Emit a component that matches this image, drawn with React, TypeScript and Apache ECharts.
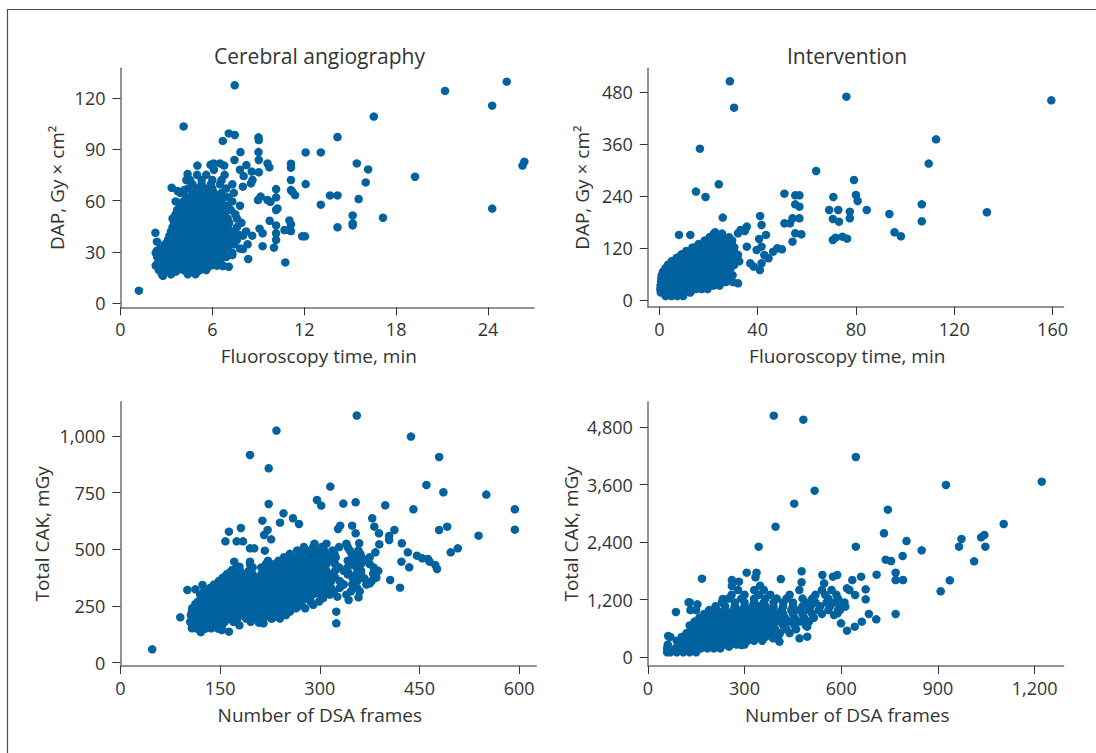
import React, { useEffect, useRef } from 'react';
import * as echarts from 'echarts';

// ---------- Panel titles & axis texts ----------
const panelTitles = ['Cerebral angiography', 'Intervention'];
const xNames = ['Fluoroscopy time, min', 'Fluoroscopy time, min', 'Number of DSA frames', 'Number of DSA frames'];
const yNames = ['DAP, Gy × cm²', 'DAP, Gy × cm²', 'Total CAK, mGy', 'Total CAK, mGy'];

// ---------- Tick values ----------
const p1XTicks = [0, 6, 12, 18, 24];
const p1YTicks = [0, 30, 60, 90, 120];
const p2XTicks = [0, 40, 80, 120, 160];
const p2YTicks = [0, 120, 240, 360, 480];
const p3XTicks = [0, 150, 300, 450, 600];
const p3YTicks = [0, 250, 500, 750, 1000];
const p4XTicks = [0, 300, 600, 900, 1200];
const p4YTicks = [0, 1200, 2400, 3600, 4800];

// ---------- Panel 1: Cerebral angiography, fluoroscopy time vs DAP ----------
const p1Scattered: [number, number][] = [
  [1.2, 7.4], [7.46, 127.3], [4.12, 103.3], [21.19, 124.0], [25.22, 129.4], [24.27, 115.4], [24.27, 55.3],
  [26.25, 80.4], [26.37, 82.7], [19.23, 73.9], [16.54, 109.0], [14.17, 97.1], [13.08, 88.1], [12.09, 88.1],
  [15.43, 81.7], [16.17, 78.2], [16.01, 70.6], [15.55, 60.9], [17.14, 50.0], [15.16, 51.3], [15.16, 46.7],
  [15.16, 45.5], [14.17, 44.4], [14.17, 63.0], [13.68, 63.0], [13.08, 57.6], [12.09, 69.6], [11.86, 39.1],
  [12.05, 39.1], [11.13, 81.5], [11.13, 79.2], [11.13, 72.0], [11.13, 66.1], [11.22, 65.2], [11.4, 63.2],
  [11.03, 48.4], [11.13, 46.1], [11.03, 42.8], [11.13, 42.2], [10.76, 23.9], [10.71, 42.8], [10.16, 66.7],
  [10.16, 61.9], [10.25, 55.4], [10.16, 54.5], [10.16, 45.5], [10.16, 40.9], [10.16, 37.0], [10.02, 32.5],
  [9.74, 48.2], [9.6, 60.3], [9.79, 59.3], [9.6, 81.7], [9.72, 79.4], [9.01, 96.9], [9.03, 95.3], [9.01, 88.3],
  [9.03, 83.7], [9.03, 76.5], [9.15, 62.3], [8.98, 60.3], [9.28, 40.9], [9.28, 33.4], [9.08, 43.6], [8.52, 70.0],
  [8.62, 72.0], [8.57, 76.9], [8.22, 80.7], [8.04, 74.3], [7.99, 68.1], [7.83, 88.3], [7.44, 83.7], [7.46, 98.3],
  [7.07, 99.2], [6.68, 94.8], [5.02, 80.4], [5.88, 80.9], [6.08, 81.7], [6.5, 81.7], [6.77, 80.4], [4.38, 75.5],
  [4.54, 72.0], [3.34, 67.5], [3.73, 65.6], [4.15, 66.1], [8.34, 25.9], [2.77, 16.1], [2.28, 41.2], [2.38, 36.0],
  [2.38, 30.7], [2.38, 22.7], [3.16, 19.4], [3.62, 18.5], [4.38, 17.5], [5.0, 18.5], [6.08, 22.7], [6.68, 21.8],
  [7.07, 21.4], [7.3, 28.2], [7.99, 31.7], [7.46, 37.0], [7.76, 39.9],
];
// dense core, read row by row: [DAP, fluoroscopy times]
const p1Core: [number, number[]][] = [
  [17, [2.7, 3.3, 4.4, 4.9]],
  [19.5, [2.5, 2.9, 3.3, 3.7, 4.1, 4.6, 5.2, 5.6]],
  [22, [2.3, 2.7, 3.1, 3.5, 3.9, 4.3, 4.7, 5.1, 5.5, 5.9, 6.3, 6.7]],
  [24.5, [2.5, 2.9, 3.3, 3.7, 4.1, 4.5, 4.9, 5.3, 5.7, 6.1, 6.5]],
  [27, [2.4, 2.8, 3.2, 3.6, 4.0, 4.4, 4.8, 5.2, 5.6, 6.0, 6.4, 6.9]],
  [29.5, [2.3, 2.7, 3.1, 3.5, 3.9, 4.3, 4.7, 5.1, 5.5, 5.9, 6.3, 6.7, 7.3]],
  [32, [2.6, 3.0, 3.4, 3.8, 4.2, 4.6, 5.0, 5.4, 5.8, 6.2, 6.6, 7.0, 7.8]],
  [34.5, [2.9, 3.3, 3.7, 4.1, 4.5, 4.9, 5.3, 5.7, 6.1, 6.5, 6.9, 7.4, 8.3]],
  [37, [3.1, 3.5, 3.9, 4.3, 4.7, 5.1, 5.5, 5.9, 6.3, 6.7, 7.1, 7.6]],
  [39.5, [3.2, 3.6, 4.0, 4.4, 4.8, 5.2, 5.6, 6.0, 6.4, 6.8, 7.2, 8.0, 8.6]],
  [42, [3.3, 3.7, 4.1, 4.5, 4.9, 5.3, 5.7, 6.1, 6.5, 6.9, 7.4, 8.2]],
  [44.5, [3.4, 3.8, 4.2, 4.6, 5.0, 5.4, 5.8, 6.2, 6.6, 7.0, 7.6]],
  [47, [3.5, 3.9, 4.3, 4.7, 5.1, 5.5, 5.9, 6.3, 6.7, 7.1, 7.9]],
  [49.5, [3.4, 3.8, 4.2, 4.6, 5.0, 5.4, 5.8, 6.2, 6.6, 7.0, 7.6]],
  [52, [3.6, 4.0, 4.4, 4.8, 5.2, 5.6, 6.0, 6.4, 6.8, 7.5]],
  [54.5, [3.7, 4.1, 4.5, 4.9, 5.3, 5.7, 6.1, 6.5, 6.9, 7.2]],
  [57, [3.9, 4.3, 4.7, 5.1, 5.5, 5.9, 6.3, 6.7, 7.0, 7.8]],
  [59.5, [3.6, 4.1, 4.6, 5.0, 5.4, 5.8, 6.2, 6.6, 7.3]],
  [62, [4.3, 4.8, 5.2, 5.6, 6.0, 6.5, 7.0]],
  [64.5, [3.9, 4.7, 5.2, 5.7, 6.1, 6.6, 7.4]],
  [67, [4.4, 5.0, 5.5, 6.0, 6.9]],
  [69.5, [4.7, 5.3, 5.9, 6.5, 7.3]],
  [72, [4.3, 5.3, 6.0, 6.6]],
  [75, [5.0, 5.6, 6.8]],
  [78, [6.1, 7.8]],
];

// ---------- Panel 2: Intervention, fluoroscopy time vs DAP ----------
const p2Scattered: [number, number][] = [
  [28.7, 505.4], [30.4, 444.6], [76.1, 470], [159.5, 461.5], [112.6, 371.5], [109.6, 315.4], [16.5, 350],
  [63.8, 298.4], [24.2, 267.7], [14.9, 250.8], [18.8, 238.4], [79.2, 277.7], [80, 243.1], [80.7, 229.2],
  [70.8, 238.4], [69.1, 208.4], [72.8, 208.4], [77.5, 204.6], [77.5, 189.2], [70.6, 187.7], [73.1, 181.5],
  [70.6, 139.2], [71.7, 144.6], [74.5, 146.9], [76.4, 142.3], [84.4, 208.4], [93.6, 199.2], [95.7, 156.9],
  [98.3, 147.7], [106.8, 221.5], [106.8, 182.3], [133.3, 203.1], [50.9, 246.1], [55.3, 242.3], [57.0, 242.3],
  [55.3, 221.5], [57.0, 216.1], [54.2, 189.2], [57.0, 189.2], [50.9, 177.7], [53.2, 177.7], [55.3, 154.6],
  [57.8, 152.3], [54.2, 135.3], [48.0, 120], [49.9, 117.7], [46.3, 112.3], [41.0, 194.6], [41.6, 173.8],
  [43.4, 150.8], [40.6, 141.5], [41.6, 123.8], [39.6, 116.1], [42.7, 104.6], [44.4, 96.9], [41.6, 85.4],
  [40.9, 70], [8.0, 150.8], [12.6, 150.8], [25.8, 190.8], [22.7, 156.9], [24.1, 146.9], [28.4, 145.4],
  [32.0, 154.6], [35.6, 170], [34.8, 160], [33.1, 162.3], [35.6, 123.8], [32.0, 104.6], [32.0, 39.2],
  [25.5, 46.9], [28.4, 54.6], [37.0, 85.4], [38.4, 77.7], [15.5, 123.8], [25.5, 139.2],
];
const p2Core: [number, number[]][] = [
  [10, [2.5, 4.9, 7.3, 9.7]],
  [18, [0.6, 3, 5.4, 7.8, 10.2, 12.6]],
  [26, [0.4, 2.8, 5.2, 7.6, 10, 12.4, 14.8, 17.2, 19.6]],
  [34, [0.5, 2.9, 5.3, 7.7, 10.1, 12.5, 14.9, 17.3, 19.7, 22.1, 24.5]],
  [42, [0.7, 3.1, 5.5, 7.9, 10.3, 12.7, 15.1, 17.5, 19.9, 22.3, 24.7, 27.1, 30]],
  [50, [0.8, 3.2, 5.6, 8, 10.4, 12.8, 15.2, 17.6, 20, 22.4, 24.8, 27.2]],
  [58, [1, 3.4, 5.8, 8.2, 10.6, 13, 15.4, 17.8, 20.2, 22.6, 25, 27.4, 29.8]],
  [66, [1.5, 3.9, 6.3, 8.7, 11.1, 13.5, 15.9, 18.3, 20.7, 23.1, 25.5, 28]],
  [74, [2.5, 4.9, 7.3, 9.7, 12.1, 14.5, 16.9, 19.3, 21.7, 24.1, 26.5, 29]],
  [82, [3.5, 5.9, 8.3, 10.7, 13.1, 15.5, 17.9, 20.3, 22.7, 25.1, 27.5, 30.5]],
  [90, [5, 7.4, 9.8, 12.2, 14.6, 17, 19.4, 21.8, 24.2, 26.6, 29, 32.5]],
  [98, [7, 9.4, 11.8, 14.2, 16.6, 19, 21.4, 23.8, 26.2, 28.6, 31]],
  [106, [9, 11.4, 13.8, 16.2, 18.6, 21, 23.4, 25.8, 28.2, 30.8]],
  [114, [11, 13.4, 15.8, 18.2, 20.6, 23, 25.4, 27.8, 30.4]],
  [122, [13.5, 15.9, 18.3, 20.7, 23.1, 25.5, 28, 30.5]],
  [130, [16, 18.4, 20.8, 23.2, 25.6, 29.5]],
  [138, [18.5, 21, 23.4, 26.5, 29.6]],
  [146, [20.5, 23, 26]],
  [154, [22.2, 25.5]],
];

// ---------- Panel 3: Cerebral angiography, DSA frames vs total CAK ----------
const p3Scattered: [number, number][] = [
  [47.8, 59], [90.1, 200], [355.6, 1090], [234.8, 1023.5], [195, 916], [223.1, 857.3], [437.1, 997],
  [479.5, 907.3], [460.4, 783.8], [485.9, 751.5], [550.5, 741.2], [593.4, 676.5], [593.4, 586.8],
  [538.8, 560.3], [507.6, 504.4], [497, 486.8], [491.7, 600], [479.5, 585.3], [440.8, 676.5], [398.5, 694.1],
  [389, 570.6], [404.3, 558.9], [412.2, 585.3], [404.3, 541.2], [423.4, 526.5], [432.4, 486.8], [422.8, 445.6],
  [434.5, 420.6], [420.7, 330.9], [446.1, 472], [454.1, 460.3], [462.6, 457.4], [465.2, 445.6], [473.7, 430.9],
  [476.3, 413.3], [405.9, 364.8], [378.9, 636.8], [382, 600], [389.5, 522.1], [383.6, 486.8], [353.9, 707.4],
  [335.4, 701.5], [295.7, 717.7], [302.1, 692.7], [315.8, 776.5], [268.7, 611.8], [245.4, 658.8],
  [259.7, 636.8], [240.1, 617.7], [223.1, 700], [213.6, 626.5], [221.5, 585.3], [226.8, 544.1], [216.2, 563.3],
  [217.3, 494.2], [181.3, 594.1], [163.3, 578], [184.4, 535.3], [174.9, 535.3], [158, 535.3], [195, 504.4],
  [201.4, 504.4], [195, 445.6], [330.7, 604.4], [327.5, 589.7], [348.7, 604.4], [353.9, 570.6], [359.3, 526.5],
  [324.8, 225], [324.8, 173.6], [343.4, 276.5], [358.2, 288.3], [326.4, 291.2], [332.8, 350], [343.4, 394.2],
  [361.9, 386.8], [375.2, 350], [367.2, 372], [380.5, 394.2], [285.1, 276.5], [295.7, 305.9], [306.3, 320.6],
  [275.6, 305.9], [266.6, 247.1], [248, 239.8], [234.8, 203], [226.8, 195.7], [215.2, 173.6], [208.3, 176.5],
  [163.3, 136.8], [152.6, 144.2], [136.8, 151.5], [123.5, 166.3], [107.6, 151.5], [107.6, 173.6],
  [123.5, 188.3], [115.6, 210.4], [107.6, 225], [100.7, 320.6], [112.9, 323.6], [123.5, 342.7], [134.1, 313.3],
  [127.2, 288.3], [112.9, 258.9], [123.5, 254.5], [144.7, 305.9], [147.4, 328], [155.3, 335.4], [168.5, 335.4],
  [168.5, 408.9], [163.3, 394.2], [173.8, 379.5], [165.9, 364.8], [179.1, 423.6], [171.2, 445.6],
];
const p3Core: [number, number[]][] = [
  [135, [121]],
  [150, [115, 128, 147]],
  [165, [114, 140, 153, 179]],
  [180, [105, 118, 131, 144, 157, 170, 196]],
  [195, [111, 124, 137, 150, 163, 176, 189, 202, 215, 228, 240]],
  [210, [106, 119, 132, 145, 158, 171, 184, 197, 210, 223, 236, 249]],
  [225, [112, 125, 138, 151, 164, 177, 190, 203, 216, 229, 242, 255]],
  [240, [108, 121, 134, 147, 160, 173, 186, 199, 212, 225, 238, 251, 264, 278]],
  [255, [114, 127, 140, 153, 166, 179, 192, 205, 218, 231, 244, 257, 270, 290]],
  [270, [117, 130, 143, 156, 169, 182, 195, 208, 221, 234, 247, 260, 273, 286, 299]],
  [285, [123, 136, 149, 162, 175, 188, 201, 214, 227, 240, 253, 266, 279, 305]],
  [300, [120, 133, 146, 159, 172, 185, 198, 211, 224, 237, 250, 263, 276, 289, 302, 315, 340]],
  [315, [126, 139, 152, 165, 178, 191, 204, 217, 230, 243, 256, 269, 282, 295, 308, 321, 347, 360]],
  [330, [135, 148, 161, 174, 187, 200, 213, 226, 239, 252, 265, 278, 291, 304, 317, 330, 356]],
  [345, [141, 154, 167, 180, 193, 206, 219, 232, 245, 258, 271, 284, 297, 310, 336, 349, 370]],
  [360, [148, 161, 174, 187, 200, 213, 226, 239, 252, 265, 278, 291, 304, 317, 330, 356, 378]],
  [375, [154, 167, 180, 193, 206, 219, 232, 245, 258, 271, 284, 297, 310, 323, 349, 362, 385]],
  [390, [160, 173, 186, 199, 212, 225, 238, 251, 264, 277, 290, 303, 316, 342, 355, 381]],
  [405, [167, 180, 193, 219, 232, 245, 258, 271, 284, 297, 310, 323, 336, 362, 388]],
  [420, [175, 199, 212, 225, 238, 251, 264, 277, 290, 303, 329, 342, 355, 381]],
  [435, [195, 219, 232, 245, 258, 271, 284, 297, 310, 323, 349, 362, 375]],
  [450, [222, 238, 251, 264, 277, 290, 303, 316, 342, 355, 368]],
  [465, [246, 259, 272, 285, 298, 311, 324, 350, 363, 375]],
  [480, [255, 270, 283, 296, 309, 322, 348, 361]],
  [495, [266, 280, 293, 306, 319, 345, 358]],
  [510, [276, 290, 303, 329, 342]],
  [525, [292, 310, 340]],
];

// ---------- Panel 4: Intervention, DSA frames vs total CAK ----------
const p4Scattered: [number, number][] = [
  [390.8, 5044], [482.5, 4960], [645.2, 4180], [517.5, 3476], [454.1, 3205], [396.2, 2724], [343.8, 2306],
  [645.2, 2306], [924.8, 3595], [1221.9, 3664], [744.6, 3079], [732.6, 2585], [1103.9, 2780], [1034, 2501],
  [1043.9, 2550], [972.9, 2466], [965.2, 2306], [1047.1, 2306], [1012.2, 1999], [802.5, 2424], [849.5, 2229],
  [790.5, 2111], [738.1, 2034], [754.5, 2006], [709.7, 1721], [768.7, 1763], [768.7, 1609], [791.6, 1609],
  [936.8, 1602], [908.5, 1373], [768.7, 899], [708.6, 787], [685.7, 899], [675.8, 1414], [675.8, 1205],
  [661.6, 1679], [634.3, 1609], [643.1, 1296], [625.6, 1400], [617.9, 1435], [642, 634], [617.9, 551],
  [663.8, 739], [599.4, 704], [577.5, 878], [588.5, 913], [596.1, 982], [612.5, 1052], [587.4, 1714],
  [574.3, 1679], [541.5, 1714], [547, 1540], [494.5, 425], [470.5, 390], [494.5, 634], [408.3, 321],
  [388.6, 390], [405, 439], [412.6, 1630], [477.1, 1791], [477.1, 1561], [168, 1637], [87.2, 941], [63.2, 439],
  [63.2, 112], [126.5, 1143], [153.8, 1101], [132, 982], [260.8, 1609], [260.8, 1484], [282.7, 1575],
  [306.7, 1763], [337.3, 1763], [334, 1665], [348.2, 1491], [232.4, 1212], [252.1, 216], [290.3, 251],
  [273.9, 356],
];
const p4Core: [number, number[]][] = [
  [100, [60, 70, 90, 110, 130, 150]],
  [180, [60, 85, 105, 125, 145, 165, 185, 205, 225]],
  [260, [62, 95, 115, 135, 155, 175, 195, 215, 235, 255, 275, 300]],
  [340, [90, 110, 130, 150, 170, 190, 210, 230, 250, 270, 290, 310, 330, 355]],
  [420, [70, 105, 125, 145, 165, 185, 205, 225, 245, 265, 285, 305, 325, 345, 365, 400]],
  [500, [120, 140, 160, 180, 200, 220, 240, 260, 280, 300, 320, 340, 360, 380, 410, 440]],
  [580, [135, 155, 175, 195, 215, 235, 255, 275, 295, 315, 335, 355, 375, 395, 430, 460]],
  [660, [130, 150, 170, 190, 210, 230, 250, 270, 290, 310, 330, 350, 370, 390, 420, 455, 490]],
  [740, [145, 165, 185, 205, 225, 245, 265, 285, 305, 325, 345, 365, 385, 410, 440, 470, 500]],
  [820, [160, 180, 200, 220, 240, 260, 280, 300, 320, 340, 360, 380, 400, 425, 455, 485, 515]],
  [900, [175, 195, 215, 235, 255, 275, 295, 315, 335, 355, 375, 395, 420, 450, 480, 510, 540]],
  [980, [150, 190, 215, 240, 265, 290, 310, 330, 350, 370, 390, 415, 445, 470, 500, 530, 560, 590]],
  [1060, [210, 240, 270, 300, 325, 345, 365, 390, 420, 450, 480, 505, 535, 565, 600]],
  [1140, [130, 230, 270, 300, 330, 360, 390, 420, 450, 490, 520, 555, 580, 610]],
  [1220, [250, 290, 330, 365, 400, 430, 480, 510, 560, 590]],
  [1300, [260, 300, 345, 380, 440, 520, 550, 585]],
  [1400, [280, 330, 360, 470, 540, 570]],
];

const DOT_COLOR = '#00629e';
const TEXT_COLOR = '#333333';
const FONT = "'Open Sans', 'Noto Sans', sans-serif";

function expand(core: [number, number[]][], scattered: [number, number][]): [number, number][] {
  const pts: [number, number][] = [];
  core.forEach(([y, xs]) => xs.forEach((x) => pts.push([x, y])));
  scattered.forEach((p) => pts.push(p));
  return pts;
}

const withCommas = (v: number) => String(v).replace(/\B(?=(\d{3})+(?!\d))/g, ',');

export default function App() {
  const ref = useRef<HTMLDivElement>(null);

  useEffect(() => {
    if (!ref.current) return;
    const chart = echarts.init(ref.current, undefined, { renderer: 'svg' });

    const grids = [
      { left: 120.5, top: 68.3, width: 413.5, height: 239 },
      { left: 647.8, top: 68.3, width: 415.8, height: 238.7 },
      { left: 120.4, top: 401.7, width: 415.9, height: 264.3 },
      { left: 647.8, top: 401.7, width: 415.8, height: 264.3 },
    ];
    const xRanges = [[0, 27], [-4.7, 164.5], [0, 625.7], [0, 1289.7]];
    const yRanges = [[-2.3, 137.2], [-15.5, 535.4], [-14.6, 1151], [-188, 5335]];
    const xTicks = [p1XTicks, p2XTicks, p3XTicks, p4XTicks];
    const yTicks = [p1YTicks, p2YTicks, p3YTicks, p4YTicks];
    const yNameGaps = [54, 56, 69, 67];
    const data = [
      expand(p1Core, p1Scattered),
      expand(p2Core, p2Scattered),
      expand(p3Core, p3Scattered),
      expand(p4Core, p4Scattered),
    ];

    const axisLine = { show: true, onZero: false, lineStyle: { color: '#6f6f6f', width: 1.5 } };
    const labelStyle = { color: TEXT_COLOR, fontSize: 18, fontFamily: FONT };

    chart.setOption({
      animation: false,
      backgroundColor: '#ffffff',
      grid: grids.map((g) => ({ ...g, outerBoundsMode: 'none', containLabel: false })),
      xAxis: grids.map((_, i) => ({
        type: 'value',
        gridIndex: i,
        min: xRanges[i][0],
        max: xRanges[i][1],
        name: xNames[i],
        nameLocation: 'middle',
        nameGap: 39,
        nameTextStyle: { color: TEXT_COLOR, fontSize: 19, fontFamily: FONT, padding: [0, 17, 0, 0] },
        axisLine,
        axisTick: { show: true, length: 8, lineStyle: { color: '#333', width: 1 }, customValues: xTicks[i] },
        axisLabel: { ...labelStyle, margin: 13, formatter: withCommas, customValues: xTicks[i] },
        splitLine: { show: false },
      })),
      yAxis: grids.map((_, i) => ({
        type: 'value',
        gridIndex: i,
        min: yRanges[i][0],
        max: yRanges[i][1],
        name: yNames[i],
        nameLocation: 'middle',
        nameGap: yNameGaps[i],
        nameTextStyle: { color: TEXT_COLOR, fontSize: 19, fontFamily: FONT },
        axisLine,
        axisTick: { show: true, length: 8, lineStyle: { color: '#333', width: 1 }, customValues: yTicks[i] },
        axisLabel: { ...labelStyle, margin: 15, formatter: withCommas, customValues: yTicks[i] },
        splitLine: { show: false },
      })),
      series: data.map((d, i) => ({
        type: 'scatter',
        xAxisIndex: i,
        yAxisIndex: i,
        data: d,
        symbol: 'circle',
        symbolSize: 8.5,
        itemStyle: { color: DOT_COLOR, opacity: 1 },
        emphasis: { disabled: true },
        silent: true,
      })),
      graphic: [
        {
          type: 'rect',
          shape: { x: 7.5, y: 9.5, width: 1200, height: 900 },
          style: { fill: 'none', stroke: '#4d4d4d', lineWidth: 1.2 },
          silent: true,
        },
        {
          type: 'text',
          x: 319.5,
          y: 56,
          style: { text: panelTitles[0], fill: TEXT_COLOR, fontSize: 21, fontFamily: FONT, textAlign: 'center', textVerticalAlign: 'middle' },
        },
        {
          type: 'text',
          x: 847,
          y: 56,
          style: { text: panelTitles[1], fill: TEXT_COLOR, fontSize: 21, fontFamily: FONT, textAlign: 'center', textVerticalAlign: 'middle' },
        },
      ],
    });

    return () => chart.dispose();
  }, []);

  return (
    <div
      ref={ref}
      style={{ position: 'fixed', left: 0, top: 0, width: 1096, height: 753, background: '#fff' }}
    />
  );
}
